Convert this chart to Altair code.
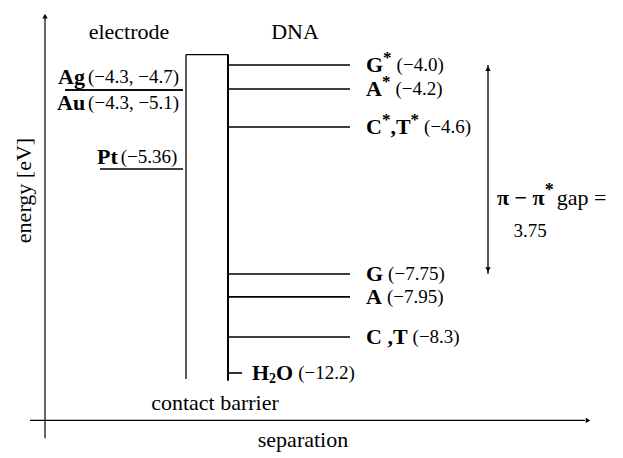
import altair as alt
import pandas as pd

# ------------------------------------------------------------------ data
dna_names = ["G*", "A*", "C*,T*", "G", "A", "C ,T", "H2O"]
dna_energy = [-4.0, -4.2, -4.6, -7.75, -7.95, -8.3, -12.2]
dna_value_text = ["(−4.0)", "(−4.2)", "(−4.6)", "(−7.75)", "(−7.95)", "(−8.3)", "(−12.2)"]

metal_names = ["Ag", "Au", "Pt"]
metal_value_text = ["(−4.3, −4.7)", "(−4.3, −5.1)", "(−5.36)"]
metal_level = [-4.3, -4.3, -5.36]

gap_from = -4.0
gap_to = -7.75
gap_value_text = "3.75"

# ------------------------------------------------------------------ layout
SERIF = "Liberation Serif"
W, H = 607, 450
# schematic (broken) energy axis: piecewise-linear mapping energy -> pixel
E_BREAKS = [-13.5, -12.2, -8.3, -7.75, -5.36, -4.6, -4.3, -4.2, -4.0, -3.5]
Y_RANGE = [442, 365, 329, 266, 161, 119, 82, 81, 57, 5]
X_DOMAIN = [0, 545]
X_RANGE = [37, 582]

E_AXIS_X = -13.0      # where the separation axis sits
E_BOTTOM = -13.3      # bottom end of energy axis
E_TOP = -3.55         # top end of energy axis
E_BARRIER_TOP = -3.9
E_BARRIER_BOT = -12.3
E_MID = -5.85

X_BAR_L, X_BAR_R = 141, 183
X_DNA_END = 305
X_H2O_END = 197
X_METAL_START = {"Ag": 20, "Au": 20, "Pt": 55}
X_METAL_END = 138
X_LABEL = 321
X_H2O_LABEL = 207
X_METAL_LABEL = {"Ag": 13, "Au": 12, "Pt": 52}
METAL_DY = {"Ag": -13, "Au": 13, "Pt": -12}
X_GAP = 443

STYLE = {
    "main": dict(size=22, weight="bold", dy=0),
    "sup": dict(size=17, weight="bold", dy=-7),
    "sub": dict(size=14, weight="bold", dy=6),
    "val": dict(size=19, weight="normal", dy=0),
    "gmain": dict(size=22, weight="bold", dy=0),
    "gsup": dict(size=18, weight="bold", dy=-7),
    "gtxt": dict(size=22, weight="normal", dy=0),
}
EXTRA_AFTER = {"gsup": 3}

REG = {" ": .25, "(": .333, ")": .333, "−": .564, ".": .25, ",": .25, "=": .564,
       "*": .5, "a": .444, "g": .5, "p": .5}
BOLD = {"G": .778, "A": .722, "C": .722, "T": .667, "H": .778, "O": .778, "g": .5,
        "u": .556, "P": .611, "t": .333, ",": .25, "*": .5, " ": .25, "2": .5,
        "π": .55, "−": .57, "a": .5, "p": .556, "=": .57}


def width(s, kind):
    st = STYLE[kind]
    table = BOLD if st["weight"] == "bold" else REG
    return sum(table.get(c, .5) for c in s) * st["size"]


def tokens_of(name):
    toks = []
    for c in name:
        k = "sup" if c == "*" else ("sub" if c.isdigit() else "main")
        if toks and toks[-1][1] == k:
            toks[-1] = (toks[-1][0] + c, k)
        else:
            toks.append((c, k))
    return toks


rows = []


def add_rich(tokens, x0, e, dy0=0, gap=0):
    x = x0
    for i, (t, k) in enumerate(tokens):
        st = STYLE[k]
        rows.append(dict(x=x, e=e, text=t, size=st["size"], weight=st["weight"],
                         dy=st["dy"] + dy0, align="left", angle=0))
        x += width(t, k) + EXTRA_AFTER.get(k, 0)
        if i + 1 < len(tokens) and tokens[i + 1][1] == "val":
            x += gap


def add_plain(text, x, e, dy=0, angle=0, size=22):
    rows.append(dict(x=x, e=e, text=text, size=size, weight="normal", dy=dy,
                     align="center", angle=angle))


# DNA labels
for n, e, v in zip(dna_names, dna_energy, dna_value_text):
    x0 = X_H2O_LABEL if n == "H2O" else X_LABEL
    add_rich(tokens_of(n) + [(v, "val")], x0, e, gap=5)

# electrode labels
for n, e, v in zip(metal_names, metal_level, metal_value_text):
    add_rich([(n, "main"), (v, "val")], X_METAL_LABEL[n], e, dy0=METAL_DY[n], gap=3)

# gap annotation
add_rich([("π − π", "gmain"), ("*", "gsup"), (" gap =", "gtxt")], X_GAP + 9, E_MID, dy0=7)
rows.append(dict(x=X_GAP + 42, e=E_MID, text=gap_value_text, size=19, weight="normal",
                 dy=40, align="center", angle=0))

# titles
add_plain("electrode", 84, E_BARRIER_TOP, dy=-23)
add_plain("DNA", 250, E_BARRIER_TOP, dy=-23)
add_plain("contact barrier", 170, E_AXIS_X, dy=-17)
add_plain("separation", 258, E_AXIS_X, dy=20)
add_plain("energy [eV]", -21, E_MID, angle=270)

texts = pd.DataFrame(rows)

# line segments
seg = []
seg.append(dict(x=0, x2=0, e=E_BOTTOM, e2=E_TOP, w=1.2))
seg.append(dict(x=-15, x2=540, e=E_AXIS_X, e2=E_AXIS_X, w=1.2))
seg.append(dict(x=X_BAR_L, x2=X_BAR_L, e=E_BARRIER_TOP, e2=E_BARRIER_BOT, w=1.3))
seg.append(dict(x=X_BAR_L, x2=X_BAR_R, e=E_BARRIER_TOP, e2=E_BARRIER_TOP, w=1.3))
seg.append(dict(x=X_BAR_R, x2=X_BAR_R, e=E_BARRIER_TOP, e2=E_BARRIER_BOT - 0.03, w=2))
for n, e in zip(dna_names, dna_energy):
    x2 = X_H2O_END if n == "H2O" else X_DNA_END
    seg.append(dict(x=X_BAR_R, x2=x2, e=e, e2=e, w=1.6))
for n, e in zip(metal_names, metal_level):
    seg.append(dict(x=X_METAL_START[n], x2=X_METAL_END, e=e, e2=e, w=1.6))
seg.append(dict(x=X_GAP, x2=X_GAP, e=gap_from, e2=gap_to, w=1.3))
segments = pd.DataFrame(seg)

heads = pd.DataFrame([
    dict(x=0, e=-3.53, shape="triangle-up"),
    dict(x=543, e=E_AXIS_X, shape="triangle-right"),
    dict(x=X_GAP, e=gap_from - 0.03, shape="triangle-up"),
    dict(x=X_GAP, e=gap_to + 0.1, shape="triangle-down"),
])

xs = alt.Scale(domain=X_DOMAIN, range=X_RANGE, nice=False, zero=False)
ys = alt.Scale(domain=E_BREAKS, range=Y_RANGE, nice=False, zero=False)

rules = alt.Chart(segments).mark_rule(color="black").encode(
    x=alt.X("x:Q", scale=xs, axis=None),
    x2="x2:Q",
    y=alt.Y("e:Q", scale=ys, axis=None),
    y2="e2:Q",
    strokeWidth=alt.StrokeWidth("w:Q", scale=None, legend=None),
)

arrows = alt.Chart(heads).mark_point(filled=True, color="black", size=28, opacity=1).encode(
    x=alt.X("x:Q", scale=xs, axis=None),
    y=alt.Y("e:Q", scale=ys, axis=None),
    shape=alt.Shape("shape:N", scale=None, legend=None),
)

layers = [rules, arrows]
for (size, weight, dy, align, angle), g in texts.groupby(["size", "weight", "dy", "align", "angle"]):
    layers.append(
        alt.Chart(g.reset_index(drop=True)).mark_text(
            font=SERIF, fontSize=float(size), fontWeight=str(weight), dy=float(dy),
            align=str(align), angle=float(angle), baseline="middle", color="black",
        ).encode(
            x=alt.X("x:Q", scale=xs, axis=None),
            y=alt.Y("e:Q", scale=ys, axis=None),
            text="text:N",
        )
    )

chart = alt.layer(*layers).properties(
    width=W, height=H, background="white", padding=0,
    autosize=alt.AutoSizeParams(type="none"),
).configure_view(stroke=None)

chart.save("out.html", embed_options={"renderer": "svg", "actions": False})
